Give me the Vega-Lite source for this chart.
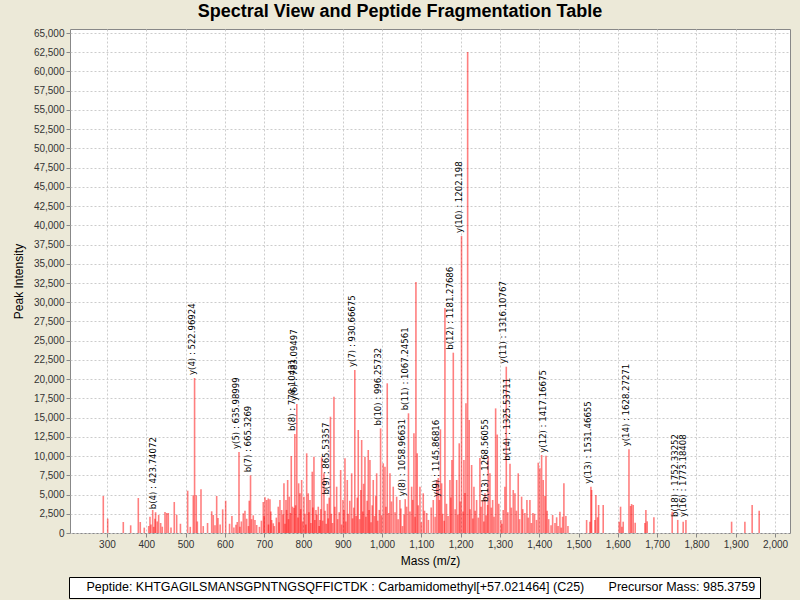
{
 "$schema": "https://vega.github.io/schema/vega-lite/v6.json",
 "width": 720,
 "height": 504,
 "autosize": {"type": "none"},
 "padding": {"left": 70, "top": 29, "right": 10, "bottom": 67},
 "background": "#ECE9D8",
 "title": {"text": "Spectral View and Peptide Fragmentation Table", "anchor": "middle", "dx": -30, "offset": 7, "fontSize": 18, "font": "Liberation Sans", "fontWeight": "bold", "color": "#000000"},
 "config": {
  "view": {"fill": "white", "stroke": "#888888", "strokeWidth": 1},
  "axis": {"grid": true, "gridDash": [2, 2], "gridColor": "#cccccc", "tickSize": 4, "tickColor": "#888888", "labelFontSize": 10, "labelFont": "Liberation Sans", "labelColor": "#333333", "titleFontSize": 12, "titleFontWeight": "normal", "titleFont": "Liberation Sans", "titleColor": "#000000", "domain": false, "labelPadding": 2, "labelFlush": false, "labelOverlap": false}
 },
 "data": {"values": [
  {"mz": 290.7, "intensity": 4810}, {"mz": 301.9, "intensity": 1860}, {"mz": 341.6, "intensity": 1430}, {"mz": 360.4, "intensity": 1000},
  {"mz": 379.8, "intensity": 4550}, {"mz": 384.8, "intensity": 1430}, {"mz": 406.2, "intensity": 910}, {"mz": 409.5, "intensity": 2120},
  {"mz": 416.4, "intensity": 2990}, {"mz": 422.2, "intensity": 1860}, {"mz": 423.74072, "intensity": 2700, "label": "b(4) : 423.74072"},
  {"mz": 431.6, "intensity": 2340}, {"mz": 436.7, "intensity": 1300}, {"mz": 440.8, "intensity": 820}, {"mz": 447.7, "intensity": 2730},
  {"mz": 452.0, "intensity": 2600}, {"mz": 456.1, "intensity": 2600}, {"mz": 471.3, "intensity": 4030}, {"mz": 477.4, "intensity": 2380},
  {"mz": 505.4, "intensity": 5500}, {"mz": 519.7, "intensity": 4900}, {"mz": 522.96924, "intensity": 20150, "label": "y(4) : 522.96924"},
  {"mz": 527.3, "intensity": 4900}, {"mz": 539.3, "intensity": 5680}, {"mz": 566.5, "intensity": 2820}, {"mz": 570.6, "intensity": 2340},
  {"mz": 574.9, "intensity": 1000}, {"mz": 579.2, "intensity": 4810}, {"mz": 582.5, "intensity": 1950}, {"mz": 594.5, "intensity": 3080},
  {"mz": 602.1, "intensity": 4200}, {"mz": 628.3, "intensity": 1080}, {"mz": 631.6, "intensity": 1430},
  {"mz": 635.98999, "intensity": 10530, "label": "y(5) : 635.98999"},
  {"mz": 638.5, "intensity": 820}, {"mz": 646.9, "intensity": 2560}, {"mz": 651.2, "intensity": 2900}, {"mz": 655.5, "intensity": 1860},
  {"mz": 662.1, "intensity": 4200}, {"mz": 665.3269, "intensity": 7500, "label": "b(7) : 665.3269"},
  {"mz": 672.3, "intensity": 2300}, {"mz": 676.6, "intensity": 1690}, {"mz": 681.0, "intensity": 1040}, {"mz": 697.8, "intensity": 4030},
  {"mz": 702.1, "intensity": 4640}, {"mz": 706.4, "intensity": 4290}, {"mz": 710.5, "intensity": 4490}, {"mz": 714.8, "intensity": 4380},
  {"mz": 719.1, "intensity": 1690}, {"mz": 723.2, "intensity": 1260}, {"mz": 735.9, "intensity": 3420}, {"mz": 740.2, "intensity": 4290},
  {"mz": 744.6, "intensity": 2990}, {"mz": 750.4, "intensity": 6460}, {"mz": 755.5, "intensity": 4290}, {"mz": 759.8, "intensity": 6890},
  {"mz": 763.9, "intensity": 4720}, {"mz": 769.0, "intensity": 10010}, {"mz": 772.5, "intensity": 3420}, {"mz": 775.9, "intensity": 3250},
  {"mz": 778.10431, "intensity": 12870, "label": "b(8) : 778.10431"},
  {"mz": 783.09497, "intensity": 16770, "label": "y(6) : 783.09497"},
  {"mz": 787.8, "intensity": 6460}, {"mz": 791.1, "intensity": 5160}, {"mz": 795.4, "intensity": 6890}, {"mz": 801.3, "intensity": 4720},
  {"mz": 808.2, "intensity": 10360}, {"mz": 812.2, "intensity": 5160}, {"mz": 816.6, "intensity": 4290}, {"mz": 822.4, "intensity": 7970},
  {"mz": 826.7, "intensity": 9920}, {"mz": 831.8, "intensity": 2990}, {"mz": 837.7, "intensity": 3420}, {"mz": 842.0, "intensity": 1690},
  {"mz": 846.3, "intensity": 9840}, {"mz": 852.2, "intensity": 7760},
  {"mz": 865.53357, "intensity": 4600, "label": "b(9) : 865.53357"},
  {"mz": 868.7, "intensity": 15120}, {"mz": 877.6, "intensity": 17720}, {"mz": 884.5, "intensity": 6020}, {"mz": 894.7, "intensity": 8190},
  {"mz": 900.5, "intensity": 4290}, {"mz": 905.6, "intensity": 9710}, {"mz": 911.5, "intensity": 6890}, {"mz": 922.7, "intensity": 7760},
  {"mz": 930.66675, "intensity": 21190, "label": "y(7) : 930.66675"},
  {"mz": 939.4, "intensity": 13390}, {"mz": 948.1, "intensity": 12090}, {"mz": 956.5, "intensity": 9920}, {"mz": 964.9, "intensity": 10790},
  {"mz": 969.2, "intensity": 9490}, {"mz": 977.6, "intensity": 6890}, {"mz": 986.3, "intensity": 7760},
  {"mz": 996.25732, "intensity": 13600, "label": "b(10) : 996.25732"},
  {"mz": 1003.0, "intensity": 9060}, {"mz": 1007.4, "intensity": 8620}, {"mz": 1013.2, "intensity": 19460}, {"mz": 1020.1, "intensity": 7760},
  {"mz": 1028.5, "intensity": 6020}, {"mz": 1037.1, "intensity": 4720}, {"mz": 1045.5, "intensity": 4290},
  {"mz": 1058.96631, "intensity": 4400, "label": "y(8) : 1058.96631"},
  {"mz": 1062.6, "intensity": 3420},
  {"mz": 1067.24561, "intensity": 15560, "label": "b(11) : 1067.24561"},
  {"mz": 1075.3, "intensity": 6020}, {"mz": 1081.1, "intensity": 12960}, {"mz": 1086.2, "intensity": 32630}, {"mz": 1089.5, "intensity": 10360},
  {"mz": 1096.4, "intensity": 6020}, {"mz": 1104.8, "intensity": 5160}, {"mz": 1113.5, "intensity": 2600}, {"mz": 1130.3, "intensity": 4290},
  {"mz": 1139.0, "intensity": 6890}, {"mz": 1143.0, "intensity": 7150},
  {"mz": 1145.86816, "intensity": 4300, "label": "y(9) : 1145.86816"},
  {"mz": 1148.5, "intensity": 13480}, {"mz": 1151.6, "intensity": 6460}, {"mz": 1160.0, "intensity": 29250}, {"mz": 1172.7, "intensity": 6890},
  {"mz": 1177.8, "intensity": 9490},
  {"mz": 1181.27686, "intensity": 23440, "label": "b(12) : 1181.27686"},
  {"mz": 1189.8, "intensity": 6890}, {"mz": 1196.4, "intensity": 11660},
  {"mz": 1202.198, "intensity": 38600, "label": "y(10) : 1202.198"},
  {"mz": 1208.3, "intensity": 9490}, {"mz": 1213.4, "intensity": 16860}, {"mz": 1217.8, "intensity": 62530}, {"mz": 1221.8, "intensity": 14690},
  {"mz": 1227.9, "intensity": 8840}, {"mz": 1233.8, "intensity": 6020}, {"mz": 1240.6, "intensity": 4290}, {"mz": 1249.0, "intensity": 9750},
  {"mz": 1255.9, "intensity": 4290}, {"mz": 1261.8, "intensity": 5160},
  {"mz": 1268.56055, "intensity": 3640, "label": "b(13) : 1268.56055"},
  {"mz": 1270.2, "intensity": 10010}, {"mz": 1274.5, "intensity": 7760}, {"mz": 1281.4, "intensity": 4290}, {"mz": 1289.0, "intensity": 16200},
  {"mz": 1293.1, "intensity": 12800}, {"mz": 1302.5, "intensity": 1690}, {"mz": 1308.3, "intensity": 2990}, {"mz": 1312.6, "intensity": 6020},
  {"mz": 1316.10767, "intensity": 21620, "label": "y(11) : 1316.10767"},
  {"mz": 1325.53711, "intensity": 9000, "label": "b(14) : 1325.53711"},
  {"mz": 1333.8, "intensity": 5590}, {"mz": 1338.1, "intensity": 5160}, {"mz": 1346.5, "intensity": 7760}, {"mz": 1355.1, "intensity": 4720},
  {"mz": 1363.5, "intensity": 2600}, {"mz": 1368.6, "intensity": 4290}, {"mz": 1376.2, "intensity": 4290}, {"mz": 1383.9, "intensity": 2600},
  {"mz": 1397.4, "intensity": 9140}, {"mz": 1401.7, "intensity": 8410}, {"mz": 1406.0, "intensity": 10140}, {"mz": 1410.1, "intensity": 6890},
  {"mz": 1414.4, "intensity": 4810},
  {"mz": 1417.16675, "intensity": 10050, "label": "y(12) : 1417.16675"},
  {"mz": 1434.0, "intensity": 2340}, {"mz": 1444.2, "intensity": 2040}, {"mz": 1452.6, "intensity": 2770}, {"mz": 1459.4, "intensity": 2120},
  {"mz": 1462.7, "intensity": 6460}, {"mz": 1467.8, "intensity": 2210}, {"mz": 1520.5, "intensity": 1690}, {"mz": 1528.9, "intensity": 1470},
  {"mz": 1531.46655, "intensity": 6000, "label": "y(13) : 1531.46655"},
  {"mz": 1533.2, "intensity": 5590}, {"mz": 1541.6, "intensity": 1690}, {"mz": 1544.1, "intensity": 4940}, {"mz": 1548.4, "intensity": 2040},
  {"mz": 1551.0, "intensity": 3640}, {"mz": 1562.7, "intensity": 3640}, {"mz": 1603.4, "intensity": 1470}, {"mz": 1606.9, "intensity": 3420},
  {"mz": 1610.3, "intensity": 820}, {"mz": 1613.6, "intensity": 1470},
  {"mz": 1628.27271, "intensity": 10880, "label": "y(14) : 1628.27271"},
  {"mz": 1632.4, "intensity": 3510}, {"mz": 1634.9, "intensity": 3770}, {"mz": 1639.0, "intensity": 3640}, {"mz": 1644.1, "intensity": 1340},
  {"mz": 1668.8, "intensity": 1300}, {"mz": 1671.3, "intensity": 2990}, {"mz": 1674.7, "intensity": 1520}, {"mz": 1691.7, "intensity": 2040},
  {"mz": 1738.2, "intensity": 2770},
  {"mz": 1752.33252, "intensity": 1700, "label": "b(18) : 1752.33252"},
  {"mz": 1766.2, "intensity": 1470},
  {"mz": 1773.18408, "intensity": 1700, "label": "y(16) : 1773.18408"},
  {"mz": 1889.4, "intensity": 1470}, {"mz": 1923.2, "intensity": 1470}, {"mz": 1941.7, "intensity": 3640}, {"mz": 1959.6, "intensity": 2900},
  {"mz": 395, "intensity": 700}, {"mz": 412, "intensity": 1100}, {"mz": 419, "intensity": 800}, {"mz": 428, "intensity": 1500},
  {"mz": 463, "intensity": 700}, {"mz": 487, "intensity": 1200}, {"mz": 512, "intensity": 800}, {"mz": 530, "intensity": 1500},
  {"mz": 545, "intensity": 900}, {"mz": 556, "intensity": 1300}, {"mz": 588, "intensity": 1100}, {"mz": 612, "intensity": 1200},
  {"mz": 618, "intensity": 2200}, {"mz": 623, "intensity": 700}, {"mz": 642, "intensity": 1500}, {"mz": 660, "intensity": 900},
  {"mz": 668, "intensity": 1800}, {"mz": 688, "intensity": 800}, {"mz": 693, "intensity": 1600}, {"mz": 700, "intensity": 2200},
  {"mz": 711, "intensity": 1100}, {"mz": 717, "intensity": 2800}, {"mz": 726, "intensity": 900}, {"mz": 731, "intensity": 2000},
  {"mz": 738, "intensity": 1400}, {"mz": 748, "intensity": 2400}, {"mz": 753, "intensity": 1200}, {"mz": 757, "intensity": 3000},
  {"mz": 762, "intensity": 1800}, {"mz": 767, "intensity": 2600}, {"mz": 780, "intensity": 3600}, {"mz": 786, "intensity": 2000},
  {"mz": 793, "intensity": 3100}, {"mz": 798, "intensity": 1500}, {"mz": 804, "intensity": 2500}, {"mz": 806, "intensity": 1100},
  {"mz": 814, "intensity": 2700}, {"mz": 819, "intensity": 1300}, {"mz": 824, "intensity": 3300}, {"mz": 829, "intensity": 1700},
  {"mz": 834, "intensity": 2400}, {"mz": 840, "intensity": 900}, {"mz": 844, "intensity": 3100}, {"mz": 849, "intensity": 1600},
  {"mz": 855, "intensity": 2900}, {"mz": 858, "intensity": 1200}, {"mz": 861, "intensity": 3800}, {"mz": 863, "intensity": 1900},
  {"mz": 871, "intensity": 2500}, {"mz": 874, "intensity": 1300}, {"mz": 880, "intensity": 3400}, {"mz": 887, "intensity": 1800},
  {"mz": 891, "intensity": 2700}, {"mz": 897, "intensity": 1100}, {"mz": 903, "intensity": 3000}, {"mz": 908, "intensity": 1500},
  {"mz": 914, "intensity": 2500}, {"mz": 918, "intensity": 4200}, {"mz": 925, "intensity": 1900}, {"mz": 928, "intensity": 3300},
  {"mz": 934, "intensity": 2200}, {"mz": 937, "intensity": 4600}, {"mz": 943, "intensity": 1800}, {"mz": 946, "intensity": 5600},
  {"mz": 951, "intensity": 2800}, {"mz": 953, "intensity": 6400}, {"mz": 959, "intensity": 2100}, {"mz": 962, "intensity": 4200},
  {"mz": 967, "intensity": 3000}, {"mz": 972, "intensity": 1400}, {"mz": 975, "intensity": 3600}, {"mz": 981, "intensity": 2200},
  {"mz": 984, "intensity": 4800}, {"mz": 989, "intensity": 1600}, {"mz": 993, "intensity": 3000}, {"mz": 999, "intensity": 2300},
  {"mz": 1010, "intensity": 3400}, {"mz": 1017, "intensity": 2600}, {"mz": 1024, "intensity": 4100}, {"mz": 1033, "intensity": 2700},
  {"mz": 1041, "intensity": 1800}, {"mz": 1048, "intensity": 3200}, {"mz": 1052, "intensity": 900}, {"mz": 1056, "intensity": 2400},
  {"mz": 1071, "intensity": 2800}, {"mz": 1078, "intensity": 4300}, {"mz": 1084, "intensity": 2100}, {"mz": 1092, "intensity": 3600},
  {"mz": 1100, "intensity": 1400}, {"mz": 1108, "intensity": 2900}, {"mz": 1118, "intensity": 1700}, {"mz": 1125, "intensity": 3300},
  {"mz": 1135, "intensity": 2100}, {"mz": 1154, "intensity": 2500}, {"mz": 1158, "intensity": 1600}, {"mz": 1164, "intensity": 3800},
  {"mz": 1168, "intensity": 2200}, {"mz": 1175, "intensity": 4600}, {"mz": 1186, "intensity": 3100}, {"mz": 1193, "intensity": 2400},
  {"mz": 1199, "intensity": 4100}, {"mz": 1206, "intensity": 2800}, {"mz": 1211, "intensity": 5200}, {"mz": 1224, "intensity": 3100},
  {"mz": 1231, "intensity": 1900}, {"mz": 1237, "intensity": 2900}, {"mz": 1245, "intensity": 2000}, {"mz": 1252, "intensity": 3400},
  {"mz": 1259, "intensity": 1500}, {"mz": 1265, "intensity": 2300}, {"mz": 1278, "intensity": 3300}, {"mz": 1285, "intensity": 2100},
  {"mz": 1297, "intensity": 3800}, {"mz": 1305, "intensity": 1200}, {"mz": 1320, "intensity": 2700}, {"mz": 1329, "intensity": 3300},
  {"mz": 1342, "intensity": 2900}, {"mz": 1350, "intensity": 1800}, {"mz": 1358, "intensity": 3100}, {"mz": 1372, "intensity": 2000},
  {"mz": 1380, "intensity": 1300}, {"mz": 1388, "intensity": 2500}, {"mz": 1393, "intensity": 1700}, {"mz": 1420, "intensity": 2900},
  {"mz": 1424, "intensity": 1800}, {"mz": 1430, "intensity": 1000}, {"mz": 1440, "intensity": 1300}, {"mz": 1448, "intensity": 900},
  {"mz": 1456, "intensity": 700}, {"mz": 1473, "intensity": 900}
 ]},
 "encoding": {
  "x": {"field": "mz", "type": "quantitative", "scale": {"domain": [206, 2038], "nice": false, "zero": false},
   "axis": {"title": "Mass (m/z)", "format": ",.0f", "values": [300, 400, 500, 600, 700, 800, 900, 1000, 1100, 1200, 1300, 1400, 1500, 1600, 1700, 1800, 1900, 2000], "titlePadding": 6}},
  "y": {"field": "intensity", "type": "quantitative", "scale": {"domain": [0, 65520], "nice": false},
   "axis": {"title": "Peak Intensity", "format": ",.0f", "values": [0, 2500, 5000, 7500, 10000, 12500, 15000, 17500, 20000, 22500, 25000, 27500, 30000, 32500, 35000, 37500, 40000, 42500, 45000, 47500, 50000, 52500, 55000, 57500, 60000, 62500, 65000], "titlePadding": 8}}
 },
 "layer": [
  {
   "mark": {"type": "rule", "strokeWidth": 1.6, "opacity": 0.5},
   "encoding": {
    "y2": {"datum": 0},
    "color": {"datum": "Peptide: KHTGAGILSMANSGPNTNGSQFFICTDK : Carbamidomethyl[+57.021464] (C25)\u00a0\u00a0\u00a0\u00a0\u00a0\u00a0\u00a0Precursor Mass: 985.3759\u00a0\u00a0\u00a0\u00a0\u00a0\u00a0\u00a0\u00a0",
     "scale": {"range": ["#ff0000"]},
     "legend": {"title": null, "orient": "none", "legendX": -1, "legendY": 548, "fillColor": "white", "strokeColor": "#000000", "padding": 4, "symbolSize": 0, "symbolOpacity": 0, "symbolStrokeWidth": 0, "labelOffset": 1, "labelFontSize": 12.5, "labelFont": "Liberation Sans", "labelColor": "#000000", "labelLimit": 2000}}
   }
  },
  {
   "transform": [{"filter": "datum.label"}],
   "mark": {"type": "text", "angle": 270, "align": "left", "baseline": "alphabetic", "dx": 3, "font": "DejaVu Sans Condensed, Liberation Sans, sans-serif", "fontSize": 9.5, "color": "#000000"},
   "encoding": {
    "text": {"field": "label"}
   }
  }
 ]
}
